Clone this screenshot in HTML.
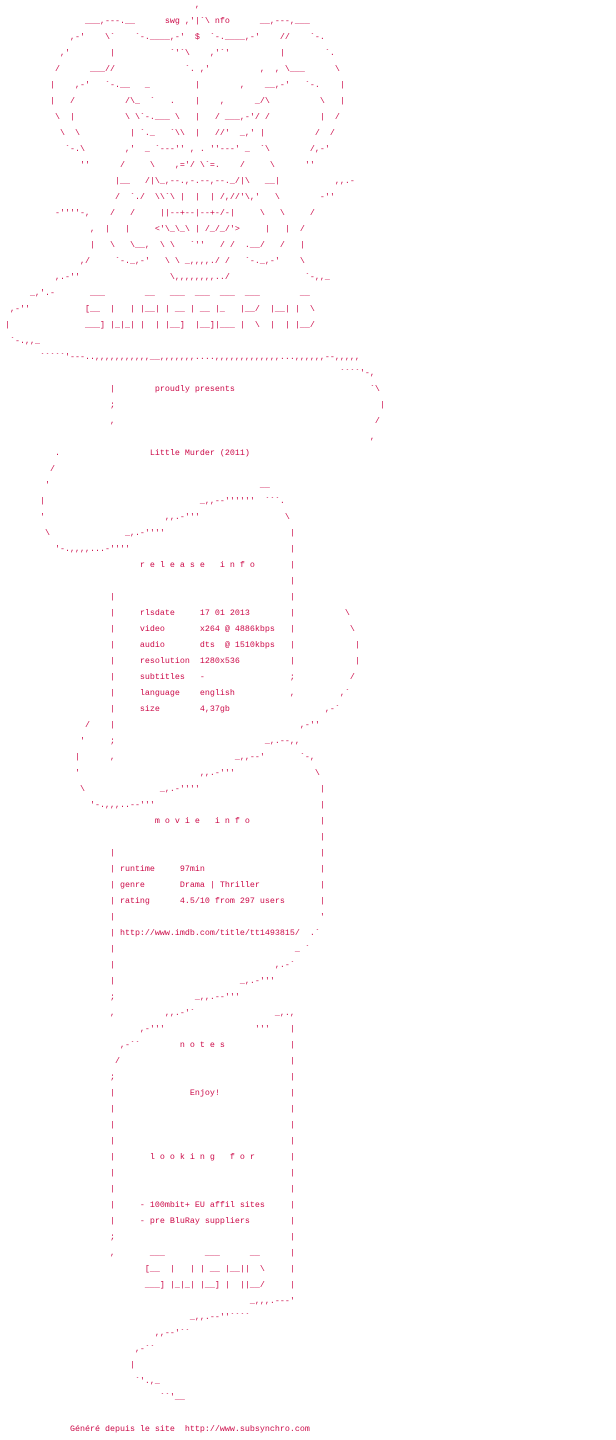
<!DOCTYPE html>
<html><head><meta charset="utf-8">
<style>
html,body{margin:0;padding:0;background:#fff;}
body{width:616px;height:1440px;position:relative;overflow:hidden;}
pre{position:absolute;left:0;top:-3px;margin:0;font-family:"Liberation Mono",monospace;font-size:8.33px;line-height:16px;color:#cc0a48;}
</style></head><body>
<pre>                                       ,
                 ___,---.__      swg ,'|`\ nfo      __,---,___
              ,-'    \`    `-.____,-'  $  `-.____,-'    //    `-.
            ,'        |           `'`\    ,'`'          |        `.
           /      ___//              `. ,'          ,  , \___      \
          |    ,-'   `-.__   _         |        ,    __,-'   `-.    |
          |   /          /\_  `   .    |    ,      _/\          \   |
           \  |          \ \`-.___ \   |   / ___,-'/ /          |  /
            \  \          | `._   `\\  |   //'  _,' |          /  /
             `-.\        ,'  _ `---'' , . ''---' _  `\        /,-'
                ''      /     \    ,='/ \`=.    /     \      ''
                       |__   /|\_,--.,-.--,--._/|\   __|           ,,.-
                       /  `./  \\`\ |  |  | /,//'\,'   \        -''
           -''''-,    /   /     ||--+--|--+-/-|     \   \     /
                  ,  |   |     &lt;'\_\_\ | /_/_/'&gt;     |   |  /
                  |   \   \__,  \ \   `''   / /  .__/   /   |
                ,/     `-._,-'   \ \ _,,,,./ /   `-._,-'    \
           ,.-''                  \,,,,,,,,../               `-,,_
      _,'.-       ___        __   ___  ___  ___  ___        __
  ,-''           [__  |   | |__| | __ | __ |_   |__/  |__| |  \
 |               ___] |_|_| |  | |__]  |__]|___ |  \  |  | |__/
  `-.,,_
        &#96;&#96;&#96;&#96;&#96;'---..,,,,,,,,,,,__,,,,,,,....,,,,,,,,,,,,,...,,,,,,--,,,,,
                                                                    &#96;&#96;&#96;&#96;'-,
                      |        proudly presents                           `\
                      ;                                                     |
                      ,                                                    /
                                                                          ,
           .                  Little Murder (2011)
          /
         '                                          __
        |                               _,,--''''''  &#96;&#96;&#96;.
        '                        ,,.-'''                 \
         \               _,.-''''                         |
           '-.,,,,...-''''                                |
                            r e l e a s e   i n f o       |
                                                          |
                      |                                   |
                      |     rlsdate     17 01 2013        |          \
                      |     video       x264 @ 4886kbps   |           \
                      |     audio       dts  @ 1510kbps   |            |
                      |     resolution  1280x536          |            |
                      |     subtitles   -                 ;           /
                      |     language    english           ,         ,`
                      |     size        4,37gb                   ,-`
                 /    |                                     ,-''
                '     ;                              _,.--,,
               |      ,                        _,,--'       `-,
               '                        ,,.-'''                \
                \               _,.-''''                        |
                  '-.,,,..--'''                                 |
                               m o v i e   i n f o              |
                                                                |
                      |                                         |
                      | runtime     97min                       |
                      | genre       Drama | Thriller            |
                      | rating      4.5/10 from 297 users       |
                      |                                         '
                      | http://www.imdb.com/title/tt1493815/  .`
                      |                                    _ `
                      |                                ,.-`
                      |                         _,.-'''
                      ;                _,,.--'''
                      ,          ,,.-'`                _,.,
                            ,-'''                  '''    |
                        ,-``        n o t e s             |
                       /                                  |
                      ;                                   |
                      |               Enjoy!              |
                      |                                   |
                      |                                   |
                      |                                   |
                      |       l o o k i n g   f o r       |
                      |                                   |
                      |                                   |
                      |     - 100mbit+ EU affil sites     |
                      |     - pre BluRay suppliers        |
                      ;                                   |
                      ,       ___        ___      __      |
                             [__  |   | | __ |__||  \     |
                             ___] |_|_| |__] |  ||__/     |
                                                  _,,,.---'
                                      _,,.--''&#96;&#96;&#96;&#96;
                               ,,--'``
                           ,-``
                          |
                           `'.,_
                                ``'__

              Généré depuis le site  http://www.subsynchro.com</pre>
</body></html>
